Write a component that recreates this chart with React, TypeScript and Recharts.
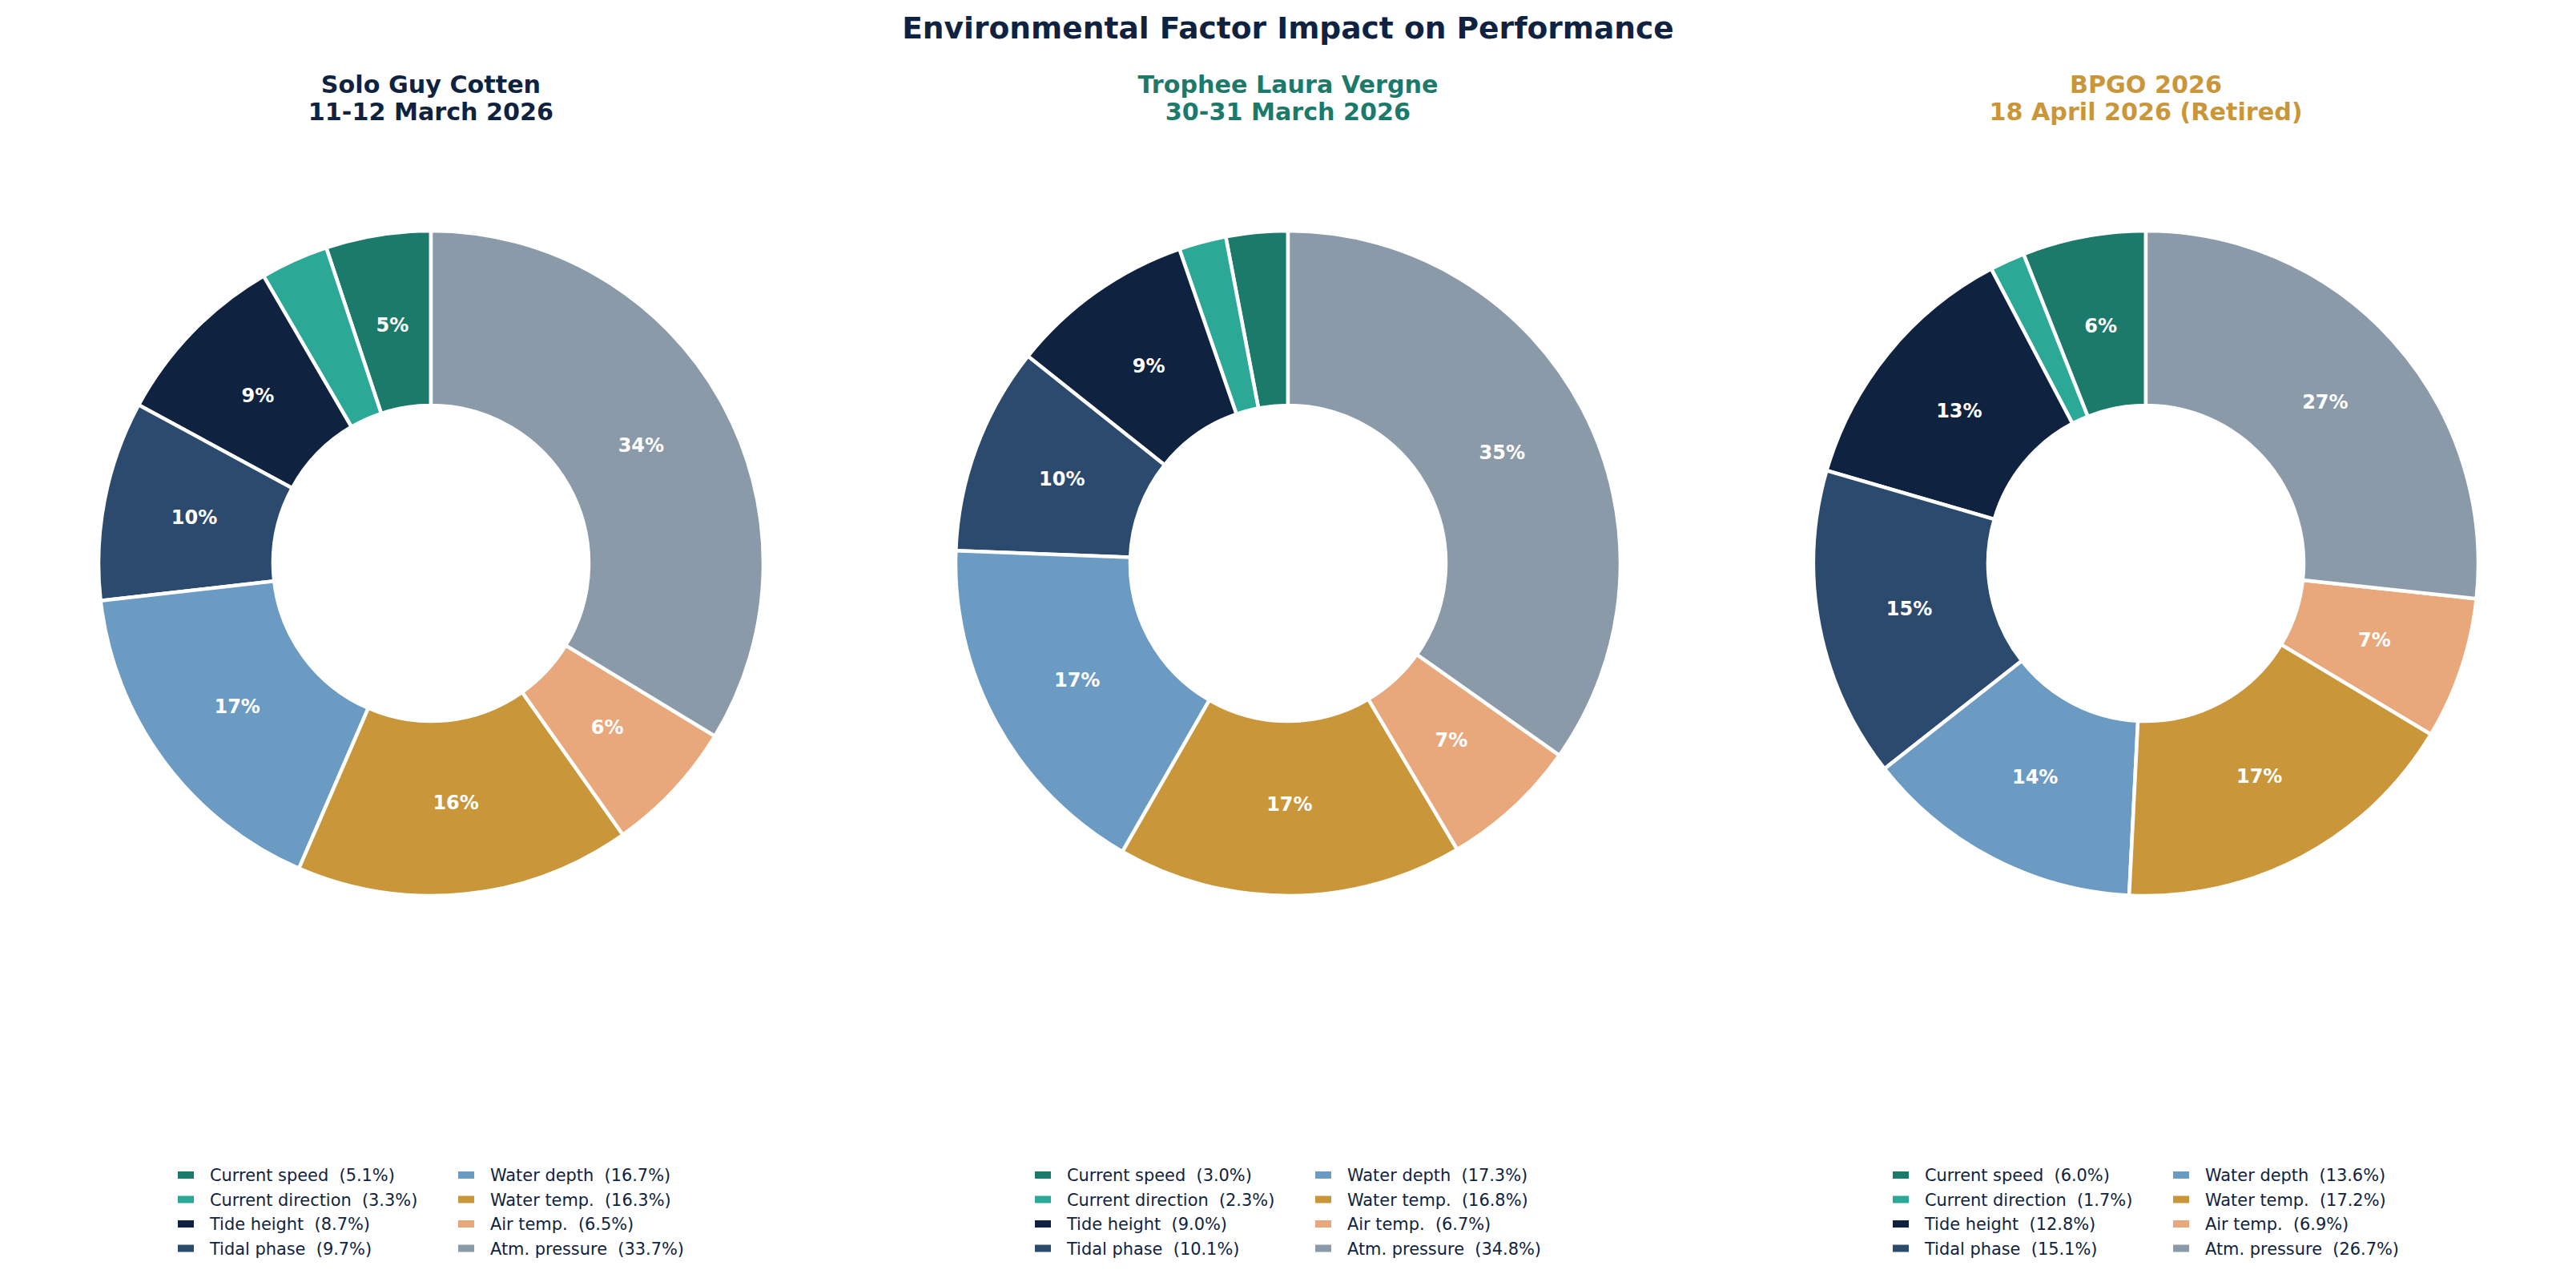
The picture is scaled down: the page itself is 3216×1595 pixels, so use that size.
import React from 'react';
import { PieChart, Pie, Cell } from 'recharts';

const factors = [
  'Current speed',
  'Current direction',
  'Tide height',
  'Tidal phase',
  'Water depth',
  'Water temp.',
  'Air temp.',
  'Atm. pressure',
];

const factorColors = [
  '#1b7a6a',
  '#2ca896',
  '#0f2340',
  '#2c4a6e',
  '#6b9bc3',
  '#c9963a',
  '#e8a87c',
  '#8a9aa9',
];

const soloValues = [5.1, 3.3, 8.7, 9.7, 16.7, 16.3, 6.5, 33.7];
const tropheeValues = [3.0, 2.3, 9.0, 10.1, 17.3, 16.8, 6.7, 34.8];
const bpgoValues = [6.0, 1.7, 12.8, 15.1, 13.6, 17.2, 6.9, 26.7];

const eventTitles = ['Solo Guy Cotten', 'Trophee Laura Vergne', 'BPGO 2026'];
const eventDates = ['11-12 March 2026', '30-31 March 2026', '18 April 2026 (Retired)'];
const titleColors = ['#0f2340', '#1b7a6a', '#c9963a'];

const W = 3216;
const H = 1595;
const CENTERS_X = [538, 1608, 2679];
const CENTER_Y = 703;
const OUTER = 415;
const INNER = 197;
const NAVY = '#0f2340';
const FONT = '"DejaVu Sans", Verdana, sans-serif';
const RADIAN = Math.PI / 180;

// python-style %.0f (round half to even)
const pct0 = (v: number) => {
  const f = Math.floor(v);
  const d = v - f;
  if (Math.abs(d - 0.5) < 1e-9) return f % 2 === 0 ? f : f + 1;
  return Math.round(v);
};

const buildData = (values: number[]) =>
  factors.map((name, i) => ({ name, value: values[i], color: factorColors[i] }));

const renderLabel = (props: any) => {
  const { cx, cy, midAngle, value } = props;
  if (value < 4) return null;
  const r = 301;
  const x = cx + r * Math.cos(-midAngle * RADIAN);
  const y = cy + r * Math.sin(-midAngle * RADIAN);
  return (
    <text
      x={x}
      y={y}
      fill="#ffffff"
      textAnchor="middle"
      dominantBaseline="central"
      style={{ fontFamily: FONT, fontSize: 24, fontWeight: 'bold' }}
    >
      {pct0(value)}%
    </text>
  );
};

const App = () => {
  const allValues = [soloValues, tropheeValues, bpgoValues];

  return (
    <div style={{ position: 'absolute', left: 0, top: 0, width: W, height: H, background: '#fff' }}>
      <div style={{ position: 'absolute', left: 0, top: 0 }}>
        <PieChart width={W} height={H} margin={{ top: 0, right: 0, bottom: 0, left: 0 }}>
          {allValues.map((vals, k) => (
            <Pie
              key={k}
              data={buildData(vals)}
              dataKey="value"
              nameKey="name"
              cx={CENTERS_X[k]}
              cy={CENTER_Y}
              innerRadius={INNER}
              outerRadius={OUTER}
              startAngle={90}
              endAngle={450}
              stroke="#ffffff"
              strokeWidth={4.5}
              label={renderLabel}
              labelLine={false}
              isAnimationActive={false}
            >
              {vals.map((_, i) => (
                <Cell key={i} fill={factorColors[i]} />
              ))}
            </Pie>
          ))}
        </PieChart>
      </div>

      <svg
        width={W}
        height={H}
        style={{ position: 'absolute', left: 0, top: 0, pointerEvents: 'none', fontFamily: FONT }}
      >
        <text x={W / 2} y={48} textAnchor="middle" fill={NAVY} fontSize={37.6} fontWeight="bold">
          Environmental Factor Impact on Performance
        </text>

        {CENTERS_X.map((cx, k) => (
          <g key={k}>
            <text x={cx} y={116} textAnchor="middle" fill={titleColors[k]} fontSize={30.2} fontWeight="bold">
              {eventTitles[k]}
            </text>
            <text x={cx} y={150} textAnchor="middle" fill={titleColors[k]} fontSize={30.2} fontWeight="bold">
              {eventDates[k]}
            </text>

            {factors.map((f, i) => {
              const col = i < 4 ? 0 : 1;
              const row = i % 4;
              const sx = cx - 316 + col * 350;
              const cyRow = 1466.5 + row * 30.5;
              return (
                <g key={i}>
                  <rect x={sx} y={cyRow - 4.5} width={20} height={9} fill={factorColors[i]} />
                  <text
                    x={sx + 40}
                    y={cyRow + 7.5}
                    fill={NAVY}
                    fontSize={20.9}
                    style={{ whiteSpace: 'pre' }}
                  >
                    {`${f}  (${allValues[k][i].toFixed(1)}%)`}
                  </text>
                </g>
              );
            })}
          </g>
        ))}
      </svg>
    </div>
  );
};

export default App;
